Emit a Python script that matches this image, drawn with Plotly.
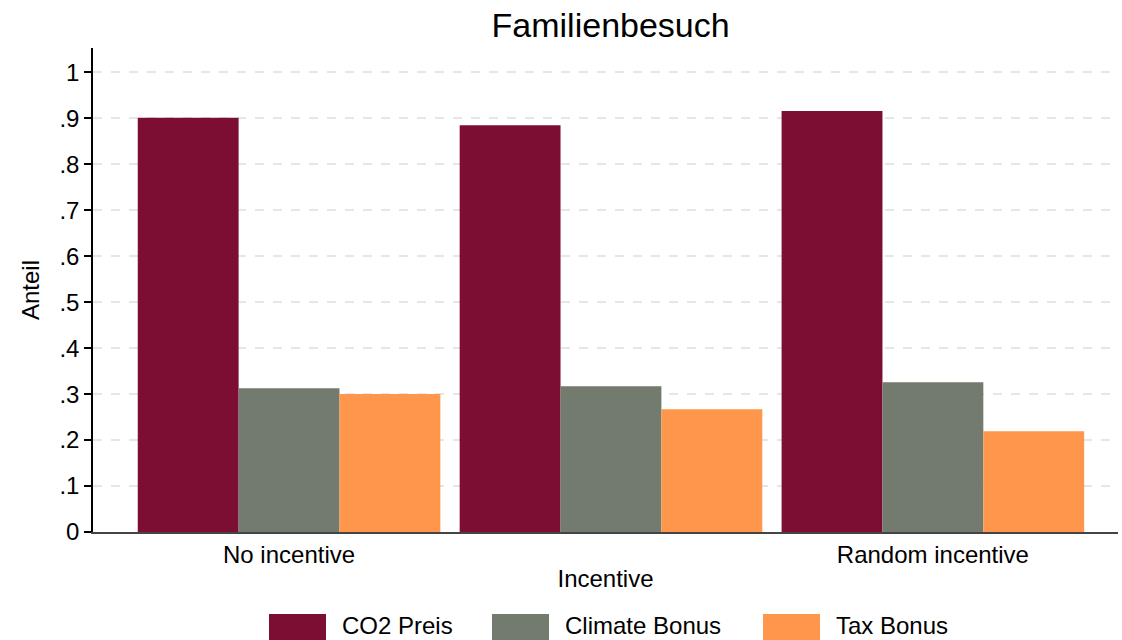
import plotly.graph_objects as go

categories = ["No incentive", "Incentive", "Random incentive"]
tick_labels = ["No incentive", "", "Random incentive"]
series_names = ["CO2 Preis", "Climate Bonus", "Tax Bonus"]
co2_preis = [0.901, 0.885, 0.916]
climate_bonus = [0.313, 0.317, 0.326]
tax_bonus = [0.300, 0.267, 0.219]
y_ticks = [0, 0.1, 0.2, 0.3, 0.4, 0.5, 0.6, 0.7, 0.8, 0.9, 1]
y_tick_labels = ["0", ".1", ".2", ".3", ".4", ".5", ".6", ".7", ".8", ".9", "1"]

colors = ["#7C0E33", "#737A6E", "#FE964C"]
FONT = "Liberation Sans, Arial, Helvetica, sans-serif"
FS = 24

W, H = 1122, 640
L, R, T, B = 93, 4, 48, 108
xpos = list(range(len(categories)))

fig = go.Figure()
for name, vals, col in zip(series_names, [co2_preis, climate_bonus, tax_bonus], colors):
    fig.add_trace(go.Bar(x=xpos, y=vals, name=name, marker=dict(color=col, line=dict(width=0)),
                         showlegend=False))

fig.update_layout(
    width=W, height=H,
    margin=dict(l=L, r=R, t=T, b=B),
    paper_bgcolor="white", plot_bgcolor="white",
    barmode="group", bargap=0.06, bargroupgap=0,
    font=dict(family=FONT, size=FS, color="black"),
    title=dict(text="Familienbesuch", xref="paper", x=0.505, xanchor="center",
               yref="container", y=1 - 25 / H, yanchor="middle",
               font=dict(size=34, family=FONT, color="black")),
)
fig.update_xaxes(
    range=[-0.609, 2.575], tickvals=xpos, ticktext=tick_labels,
    showgrid=False, zeroline=False, ticks="",
    showline=True, linecolor="#444444", linewidth=2,
    tickfont=dict(size=FS), title=dict(text="Incentive", font=dict(size=FS), standoff=3),
)
fig.update_yaxes(
    range=[0, 1.053], tickvals=y_ticks, ticktext=y_tick_labels,
    showgrid=True, gridcolor="#E6E6E6", gridwidth=2, griddash="dash",
    zeroline=False, showline=True, linecolor="black", linewidth=1.5,
    ticks="outside", ticklen=7, tickcolor="black", tickwidth=1.5,
    tickfont=dict(size=FS), title=dict(text="Anteil", font=dict(size=FS), standoff=13),
)

# manual legend (swatches + labels) below the plot
pw, ph = W - L - R, H - T - B
def px_x(p):
    return (p - L) / pw
def px_y(p):
    return (H - B - p) / ph

sw_left = [269, 492, 763]
for name, col, sx in zip(series_names, colors, sw_left):
    fig.add_shape(type="rect", xref="paper", yref="paper",
                  x0=px_x(sx), x1=px_x(sx + 57), y0=px_y(614), y1=px_y(642),
                  fillcolor=col, line=dict(width=0), layer="above")
    fig.add_annotation(xref="paper", yref="paper", x=px_x(sx + 71), y=px_y(625),
                       text=name, showarrow=False, xanchor="left", yanchor="middle",
                       font=dict(size=FS, family=FONT, color="black"))

fig.write_html("out.html", config={"displayModeBar": False},
               post_script="document.body.style.margin='0px';")
